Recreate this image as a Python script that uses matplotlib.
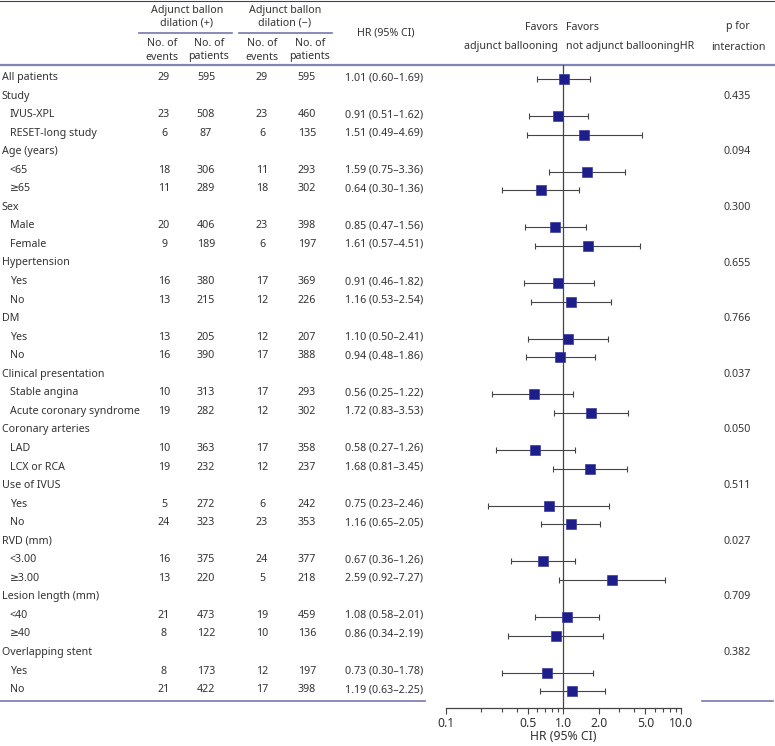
import matplotlib
matplotlib.use("Agg")
import matplotlib.pyplot as plt
from matplotlib.ticker import FixedLocator, NullFormatter, FixedFormatter

plt.rcParams['font.family'] = ['Noto Sans', 'DejaVu Sans']

labels = ["All patients", "Study", "IVUS-XPL", "RESET-long study", "Age (years)", "<65", "≥65",
          "Sex", "Male", "Female", "Hypertension", "Yes", "No", "DM", "Yes", "No",
          "Clinical presentation", "Stable angina", "Acute coronary syndrome",
          "Coronary arteries", "LAD", "LCX or RCA", "Use of IVUS", "Yes", "No",
          "RVD (mm)", "<3.00", "≥3.00", "Lesion length (mm)", "<40", "≥40",
          "Overlapping stent", "Yes", "No"]
indent = [0, 0, 1, 1, 0, 1, 1, 0, 1, 1, 0, 1, 1, 0, 1, 1, 0, 1, 1, 0, 1, 1, 0, 1, 1,
          0, 1, 1, 0, 1, 1, 0, 1, 1]
events_pos = [29, None, 23, 6, None, 18, 11, None, 20, 9, None, 16, 13, None, 13, 16,
              None, 10, 19, None, 10, 19, None, 5, 24, None, 16, 13, None, 21, 8, None, 8, 21]
patients_pos = [595, None, 508, 87, None, 306, 289, None, 406, 189, None, 380, 215, None, 205, 390,
                None, 313, 282, None, 363, 232, None, 272, 323, None, 375, 220, None, 473, 122,
                None, 173, 422]
events_neg = [29, None, 23, 6, None, 11, 18, None, 23, 6, None, 17, 12, None, 12, 17,
              None, 17, 12, None, 17, 12, None, 6, 23, None, 24, 5, None, 19, 10, None, 12, 17]
patients_neg = [595, None, 460, 135, None, 293, 302, None, 398, 197, None, 369, 226, None, 207, 388,
                None, 293, 302, None, 358, 237, None, 242, 353, None, 377, 218, None, 459, 136,
                None, 197, 398]
hr = [1.01, None, 0.91, 1.51, None, 1.59, 0.64, None, 0.85, 1.61, None, 0.91, 1.16, None, 1.10, 0.94,
      None, 0.56, 1.72, None, 0.58, 1.68, None, 0.75, 1.16, None, 0.67, 2.59, None, 1.08, 0.86,
      None, 0.73, 1.19]
ci_low = [0.60, None, 0.51, 0.49, None, 0.75, 0.30, None, 0.47, 0.57, None, 0.46, 0.53, None, 0.50, 0.48,
          None, 0.25, 0.83, None, 0.27, 0.81, None, 0.23, 0.65, None, 0.36, 0.92, None, 0.58, 0.34,
          None, 0.30, 0.63]
ci_high = [1.69, None, 1.62, 4.69, None, 3.36, 1.36, None, 1.56, 4.51, None, 1.82, 2.54, None, 2.41, 1.86,
           None, 1.22, 3.53, None, 1.26, 3.45, None, 2.46, 2.05, None, 1.26, 7.27, None, 2.01, 2.19,
           None, 1.78, 2.25]
p_interaction = [None, "0.435", None, None, "0.094", None, None, "0.300", None, None, "0.655", None, None,
                 "0.766", None, None, "0.037", None, None, "0.050", None, None, "0.511", None, None,
                 "0.027", None, None, "0.709", None, None, "0.382", None, None]
major_ticks = [0.1, 0.5, 1.0, 2.0, 5.0, 10.0]
minor_ticks = [0.2, 0.3, 0.4, 0.6, 0.7, 0.8, 0.9, 3, 4, 6, 7, 8, 9]

W, H = 775, 746
fig = plt.figure(figsize=(W / 100, H / 100), dpi=100)
ax0 = fig.add_axes([0, 0, 1, 1])
ax0.set_xlim(0, W)
ax0.set_ylim(H, 0)
ax0.axis('off')

TXT = '#333333'
FS = 7.7
FS_AX = 8.8
LINE = '#7478ad'
y0, pitch = 77.5, 18.55
row_y = [y0 + i * pitch for i in range(len(labels))]

# header
ax0.plot([0, W], [1, 1], color='#3a3d78', lw=0.8)
ax0.plot([0, W], [65, 65], color='#8185b6', lw=1.6)
ax0.plot([139, 232], [33, 33], color=LINE, lw=1.2)
ax0.plot([239, 332], [33, 33], color=LINE, lw=1.2)
ax0.plot([0, 425], [701, 701], color=LINE, lw=1.2)
ax0.plot([702, 773], [701, 701], color=LINE, lw=1.2)

kw = dict(color=TXT, fontsize=FS, va='center')
ax0.text(187, 10, "Adjunct ballon", ha='center', **kw)
ax0.text(187, 23, "dilation (+)", ha='center', **kw)
ax0.text(285, 10, "Adjunct ballon", ha='center', **kw)
ax0.text(285, 23, "dilation (−)", ha='center', **kw)
for xc, a, b in [(162, "No. of", "events"), (209, "No. of", "patients"),
                 (262, "No. of", "events"), (310, "No. of", "patients")]:
    ax0.text(xc, 43, a, ha='center', **kw)
    ax0.text(xc, 57, b, ha='center', **kw)
ax0.text(386, 33, "HR (95% CI)", ha='center', **kw)
ax0.text(558, 27, "Favors", ha='right', **kw)
ax0.text(558, 47, "adjunct ballooning", ha='right', **kw)
ax0.text(566, 27, "Favors", ha='left', **kw)
ax0.text(566, 47, "not adjunct ballooningHR", ha='left', **kw)
ax0.text(738, 26, "p for", ha='center', **kw)
ax0.text(738, 47, "interaction", ha='center', **kw)
ax0.text(563, 737, "HR (95% CI)", ha='center', color=TXT, fontsize=FS_AX, va='center')

for i, lab in enumerate(labels):
    y = row_y[i]
    ax0.text(2 + 8 * indent[i], y, lab, ha='left', **kw)
    if events_pos[i] is not None:
        ax0.text(164, y, str(events_pos[i]), ha='center', **kw)
        ax0.text(206, y, str(patients_pos[i]), ha='center', **kw)
        ax0.text(262, y, str(events_neg[i]), ha='center', **kw)
        ax0.text(307, y, str(patients_neg[i]), ha='center', **kw)
        ax0.text(384, y, f"{hr[i]:.2f} ({ci_low[i]:.2f}–{ci_high[i]:.2f})", ha='center', **kw)
    if p_interaction[i] is not None:
        ax0.text(737, y, p_interaction[i], ha='center', **kw)

# forest axes
xl, xr = 445.7, 680.9
yt, yb = 65, 708
ax = fig.add_axes([xl / W, 1 - yb / H, (xr - xl) / W, (yb - yt) / H])
ax.set_xscale('log')
ax.set_xlim(0.1, 10)
ax.set_ylim(yb, yt)
ax.patch.set_alpha(0)
for s in ['top', 'left', 'right']:
    ax.spines[s].set_visible(False)
ax.spines['bottom'].set_color('#444444')
ax.spines['bottom'].set_linewidth(0.9)
ax.set_yticks([])
ax.xaxis.set_major_locator(FixedLocator(major_ticks))
ax.xaxis.set_major_formatter(FixedFormatter([f"{t:.1f}" for t in major_ticks]))
ax.xaxis.set_minor_locator(FixedLocator(minor_ticks))
ax.xaxis.set_minor_formatter(NullFormatter())
ax.tick_params(axis='x', which='major', length=4.5, width=0.8, color='#444444',
               labelsize=FS_AX, labelcolor=TXT, pad=2.0)
ax.tick_params(axis='x', which='minor', length=3.2, width=0.8, color='#444444')
ax.axvline(1.0, color='#444444', lw=0.9, zorder=1)

for i in range(len(labels)):
    if hr[i] is None:
        continue
    y = row_y[i] + 1.5
    ax.errorbar([hr[i]], [y], xerr=[[hr[i] - ci_low[i]], [ci_high[i] - hr[i]]],
                fmt='none', ecolor='#444444', elinewidth=0.8, capsize=2.2, capthick=0.8, zorder=2)
    ax.plot([hr[i]], [y], marker='s', markersize=7.2, color='#1e1e8a',
            markeredgecolor='#3a3aa0', markeredgewidth=0.5, zorder=3)

fig.savefig("out.png", dpi=100)
